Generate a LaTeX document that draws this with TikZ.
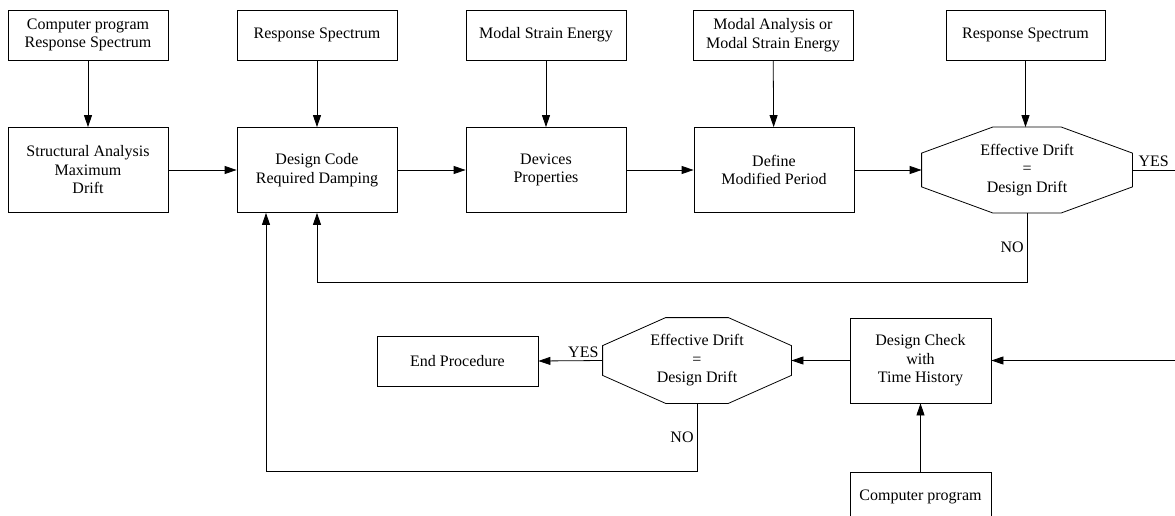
\documentclass[tikz,border=0pt]{standalone}
\usepackage{fontspec}
\setmainfont{Liberation Serif}
\usetikzlibrary{arrows.meta}
\tikzset{
  box/.style={draw,align=center,minimum width=160pt,minimum height=50pt,inner sep=2pt,
    font=\fontsize{16}{18.5}\selectfont},
  tallbox/.style={box,minimum height=85pt},
  octbox/.style={align=center,minimum height=85pt,inner sep=0pt,
    font=\fontsize{16}{18.5}\selectfont},
  arr/.style={-{Triangle[length=12pt,width=8pt]}},
  lbl/.style={font=\fontsize{16}{18.5}\selectfont,inner sep=3pt}
}
% octagon round a plain node: name, corner width, corner height
\newcommand{\octa}[3]{%
  \draw ([xshift=#2]#1.north west) -- ([xshift=-#2]#1.north east)
    -- ([yshift=-#3]#1.north east) -- ([yshift=#3]#1.south east)
    -- ([xshift=-#2]#1.south east) -- ([xshift=#2]#1.south west)
    -- ([yshift=#3]#1.south west) -- ([yshift=-#3]#1.north west) -- cycle;}
\begin{document}
\begin{tikzpicture}[x=1pt,y=-1pt,line width=0.8pt]
  \clip (0,0) rectangle (1175,516);
  %top row
  \node[box] (cpin) at (88,35) {Computer program\\Response Spectrum};
  \node[box] (rsa) at (317,35) {Response Spectrum};
  \node[box] (mse) at (546,35) {Modal Strain Energy};
  \node[box] (mao) at (773,35) {Modal Analysis or\\Modal Strain Energy};
  \node[box,minimum width=159pt] (rsb) at (1025.5,35) {Response Spectrum};
  %middle row
  \node[tallbox] (sa) at (88,170) {Structural Analysis\\Maximum\\Drift};
  \node[tallbox] (dc) at (317,170) {Design Code\\Required Damping};
  \node[tallbox] (dp) at (546,170) {Devices\\Properties};
  \node[tallbox] (mp) at (774,170) {Define\\Modified Period};
  \node[octbox,minimum width=210pt] (octa) at (1027,170) {Effective Drift\\=\\Design Drift};
  \octa{octa}{71pt}{26pt}
  %bottom row
  \node[box,minimum width=161pt] (endp) at (457.5,361) {End Procedure};
  \node[octbox,minimum width=188pt] (octb) at (697,360.5) {Effective Drift\\=\\Design Drift};
  \octa{octb}{63pt}{28pt}
  \node[tallbox,minimum width=141pt] (dch) at (920.5,360.5) {Design Check\\with\\Time History};
  \node[box,minimum width=141pt] (cpb) at (920.5,497) {Computer program};
  \coordinate (yesend) at (1175,170);
  \coordinate (inedge) at (1175,360.5);
  \coordinate (noa) at (317,282);
  \coordinate (nob) at (266,471);
  %arrows
  \draw[arr] (cpin) -- (sa);
  \draw[arr] (rsa) -- (dc);
  \draw[arr] (mse) -- (dp);
  \draw[arr] (mao) -- (mp);
  \draw[arr] (rsb.south) -- (rsb.south |- octa.north);
  \draw[arr] (sa) -- (dc);
  \draw[arr] (dc) -- (dp);
  \draw[arr] (dp) -- (mp);
  \draw[arr] (mp) -- (octa);
  \draw (octa.east) -- node[lbl,above] {YES} (yesend);
  \draw[arr] (octa.south) |- node[lbl,pos=0.25,left] {NO} (noa) -- (dc.south);
  \draw[arr] (inedge) -- (dch.east);
  \draw[arr] (cpb) -- (dch);
  \draw[arr] (dch) -- (octb);
  \draw[arr] (octb.west) -- node[lbl,pos=0.3,above] {YES} (endp.east);
  \draw[arr] (octb.south) |- node[lbl,pos=0.25,left] {NO} (nob) -- (nob |- dc.south);
\end{tikzpicture}
\end{document}
